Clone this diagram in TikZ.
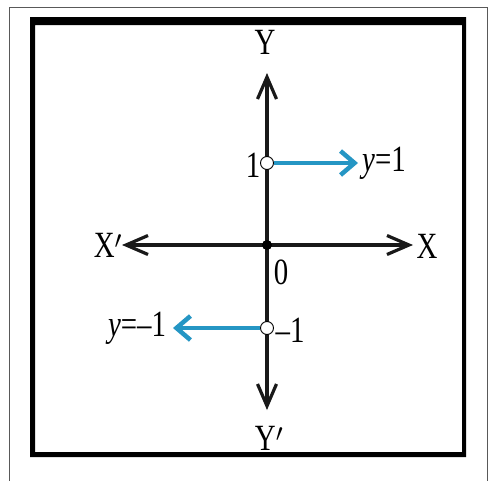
\documentclass[tikz,border=0pt]{standalone}
\usepackage{fontspec}
\setmainfont{Liberation Serif}[FakeStretch=0.78]
\usetikzlibrary{arrows.meta}
\definecolor{axblue}{HTML}{2596C4}
\begin{document}
\begin{tikzpicture}[x=1pt,y=-1pt,
  lbl/.style={inner sep=0pt,font=\fontsize{37}{40}\selectfont},
  axis/.style={line width=3.2pt,black!90,-{Straight Barb[length=22pt,width=19pt,line width=3.2pt]}},
  barrow/.style={line width=4.5pt,axblue,-{Straight Barb[length=14pt,width=24pt,line width=4.5pt]}},
  hole/.style={circle,draw=black,line width=0.9pt,fill=white,minimum size=13pt,inner sep=0pt},
  dot/.style={circle,fill=black,minimum size=10pt,inner sep=0pt}]
\path[use as bounding box] (0,0) rectangle (488,480);
\fill[white] (0,0) rectangle (488,480);
\draw[gray!70!black,line width=1pt] (9.5,481) -- (9.5,7.5) -- (487,7.5) -- (487,481);
\fill[black,even odd rule] (30,17) rectangle (466,457) (35,25) rectangle (462,452);
% coordinates
\coordinate (O) at (267,245);
\coordinate (ytop) at (267,73);
\coordinate (ybot) at (267,410);
\coordinate (xl) at (122,245);
\coordinate (xr) at (413,245);
\coordinate (bt) at (358,163);
\coordinate (bb) at (173,328);
% axes
\draw[axis] (O) -- (ytop);
\draw[axis] (O) -- (ybot);
\draw[axis] (O) -- (xl);
\draw[axis] (O) -- (xr);
\node[dot] (o) at (O) {};
% holes and blue arrows
\node[hole] (p1) at (267,163) {};
\node[hole] (m1) at (267,328) {};
\draw[barrow] (p1.east) -- (bt);
\draw[barrow] (m1.west) -- (bb);
% labels
\node[lbl] (lY) at (265,42) {Y};
\node[lbl] (lYp) at (269,438) {Y$'$};
\node[lbl] (lXp) at (108,245) {X$'$};
\node[lbl] (lX) at (427,246) {X};
\node[lbl] (l0) at (281,272) {0};
\node[lbl] (l1) at (253,165) {1};
\node[lbl] (ly1) at (384,163) {\textit{y}=1};
\node[lbl] (lym1) at (137,328) {\textit{y}=–1};
\node[lbl] (lm1) at (290,330) {–1};
\end{tikzpicture}
\end{document}
